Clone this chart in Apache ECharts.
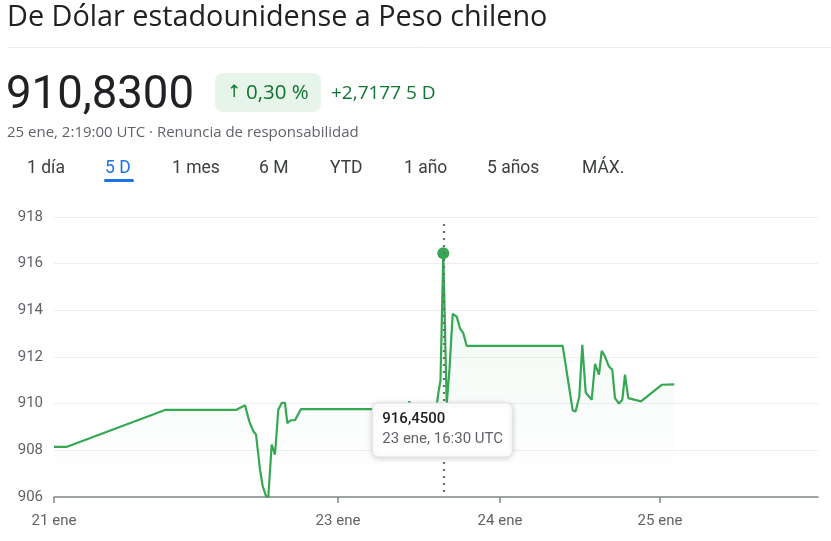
<!DOCTYPE html>
<html>
<head>
<meta charset="utf-8">
<script src="https://cdn.jsdelivr.net/npm/echarts@6/dist/echarts.min.js"></script>
<style>
html,body{margin:0;padding:0;background:#fff;}
#c{width:831px;height:541px;}
</style>
</head>
<body>
<div id="c"></div>
<script>
// ---- data ----
const title = 'De Dólar estadounidense a Peso chileno';
const lastPrice = '910,8300';
const changePct = '0,30 %';
const changeAbs = '+2,7177 5 D';
const timestampText = '25 ene, 2:19:00 UTC · Renuncia de responsabilidad';
const tabs = ['1 día', '5 D', '1 mes', '6 M', 'YTD', '1 año', '5 años', 'MÁX.'];
const activeTab = '5 D';
// x positions are in "slot" units of the 5-day chart (equally spaced samples)
const slots = [0, 13, 111, 182, 191, 195.3, 199.3, 202, 206, 208.7, 212, 214.3, 217.7, 221, 224.3, 227.7, 231, 233.3, 236.7, 241, 247,
  352, 355.3, 357, 382.7, 384.5, 386.5, 389.3, 392.7, 395.5, 398.7, 402.7, 406, 409.3, 412.7, 508.7, 518.7, 521.7, 525.3, 528.3,
  531.7, 537.7, 541, 545, 547.7, 551, 555, 558.3, 561, 565, 568.3, 571, 574.3, 587, 607.7, 620.3];
const rates = [908.15, 908.15, 909.73, 909.73, 909.93, 909.24, 908.82, 908.68, 907.18, 906.47, 906.04, 906.0, 908.25, 907.82, 909.74, 910.03, 910.03, 909.17, 909.29, 909.29, 909.77,
  909.77, 910.1, 909.77, 909.9, 910.5, 911.0, 916.45, 909.95, 911.5, 913.85, 913.73, 913.23, 913.02, 912.48, 912.48, 909.71, 909.67, 910.31, 912.52,
  910.48, 910.17, 911.71, 911.24, 912.26, 912.02, 911.59, 911.45, 910.24, 910.0, 910.17, 911.24, 910.24, 910.1, 910.81, 910.83];
const xTickSlots = [0, 284, 446, 606];
const xTickLabels = ['21 ene', '23 ene', '24 ene', '25 ene'];
const xSlotMax = 764;
const yTicks = [906, 908, 910, 912, 914, 916, 918];
const hoverIndex = 27;
const hoverLabel = '916,4500';
const hoverTime = '23 ene, 16:30 UTC';

// ---- chart ----
const GREEN = '#34a853';
const FONT = 'Roboto, "Noto Sans", sans-serif';
const WFONT = '"Open Sans", Roboto, sans-serif';
const chart = echarts.init(document.getElementById('c'), null, {renderer: 'canvas'});
const lineData = slots.map((s, i) => [s, rates[i]]);

const tabX = [27, 105, 172, 259, 330, 404, 487, 582];
const headerGraphics = [
  {type: 'text', left: 7, top: 3, style: {text: title, font: '400 28.8px ' + WFONT, fill: '#202124'}},
  {type: 'line', shape: {x1: 8, y1: 47.5, x2: 831, y2: 47.5}, style: {stroke: '#e8eaed', lineWidth: 1}},
  {type: 'text', left: 6, top: 74, style: {text: lastPrice, font: '400 45.5px ' + FONT, fill: '#202124'}},
  {type: 'rect', shape: {x: 215, y: 73, width: 106, height: 39, r: 8}, style: {fill: '#e6f4ea'}},
  {type: 'text', left: 227, top: 84, style: {text: '↑', font: '400 17px "DejaVu Sans", sans-serif', fill: '#137333'}},
  {type: 'text', left: 246, top: 83, style: {text: changePct, font: '400 20.5px ' + WFONT, fill: '#137333'}},
  {type: 'text', left: 331, top: 84, style: {text: changeAbs, font: '400 19px ' + WFONT, fill: '#137333'}},
  {type: 'text', left: 7, top: 125, style: {text: timestampText, font: '400 15px ' + WFONT, fill: '#5f6368'}}
];
tabs.forEach((t, i) => {
  headerGraphics.push({type: 'text', left: tabX[i], top: 160, style: {text: t, font: '400 17.5px ' + FONT, fill: t === activeTab ? '#1a73e8' : '#3c4043'}});
});
const ai = tabs.indexOf(activeTab);
headerGraphics.push({type: 'rect', shape: {x: tabX[ai] - 1, y: 179, width: 30, height: 3, r: 1.5}, style: {fill: '#1a73e8'}});

chart.setOption({
  animation: false,
  backgroundColor: '#fff',
  grid: {left: 54, right: 13, top: 217, bottom: 44},
  xAxis: {
    type: 'value', min: 0, max: xSlotMax,
    axisLine: {show: true, lineStyle: {color: '#80868b', width: 1.5}},
    axisTick: {show: true, length: 6, customValues: xTickSlots, lineStyle: {color: '#80868b', width: 1.5}},
    axisLabel: {
      customValues: xTickSlots,
      formatter: v => xTickLabels[xTickSlots.indexOf(v)] || '',
      color: '#5f6368', fontSize: 15, fontFamily: FONT, margin: 17
    },
    splitLine: {show: false}
  },
  yAxis: {
    type: 'value', min: yTicks[0], max: yTicks[yTicks.length - 1], interval: 2,
    axisLine: {show: false}, axisTick: {show: false},
    axisLabel: {color: '#5f6368', fontSize: 15, fontFamily: FONT, margin: 11},
    splitLine: {lineStyle: {color: '#eeeeee', width: 1}}
  },
  series: [
    {
      type: 'line', data: lineData, showSymbol: false, smooth: false,
      lineStyle: {color: GREEN, width: 2.2},
      areaStyle: {
        origin: 'start',
        color: new echarts.graphic.LinearGradient(0, 0, 0, 1, [
          {offset: 0, color: 'rgba(52,168,83,0.13)'},
          {offset: 0.7, color: 'rgba(52,168,83,0.03)'},
          {offset: 1, color: 'rgba(52,168,83,0)'}
        ])
      },
      markLine: {
        silent: true, symbol: 'none', label: {show: false},
        lineStyle: {color: '#6f6f6f', width: 2.2, type: [2, 5]},
        data: [[{coord: [slots[hoverIndex], 917.7]}, {coord: [slots[hoverIndex], yTicks[0]]}]]
      },
      z: 2
    },
    {
      type: 'scatter', data: [[slots[hoverIndex], rates[hoverIndex]]],
      symbolSize: 12, itemStyle: {color: GREEN, opacity: 1}, z: 3
    }
  ],
  graphic: headerGraphics
});

// tooltip box anchored at the hovered point
const p = chart.convertToPixel({gridIndex: 0}, [slots[hoverIndex], rates[hoverIndex]]);
const bottomPx = chart.convertToPixel({gridIndex: 0}, [0, yTicks[0]])[1];
const bx = p[0] - 71, by = bottomPx - 94;
chart.setOption({
  graphic: headerGraphics.concat([
    {type: 'rect', z: 100, zlevel: 1, shape: {x: bx, y: by, width: 140, height: 54, r: 6},
      style: {fill: '#fff', stroke: '#e0e0e0', lineWidth: 1, shadowBlur: 6, shadowColor: 'rgba(0,0,0,0.18)', shadowOffsetY: 1}},
    {type: 'text', z: 101, zlevel: 1, x: bx + 10, y: by + 9, style: {text: hoverLabel, font: '500 15px ' + FONT, fill: '#202124'}},
    {type: 'text', z: 101, zlevel: 1, x: bx + 10, y: by + 29, style: {text: hoverTime, font: '400 15px ' + FONT, fill: '#5f6368'}}
  ])
});
</script>
</body>
</html>
